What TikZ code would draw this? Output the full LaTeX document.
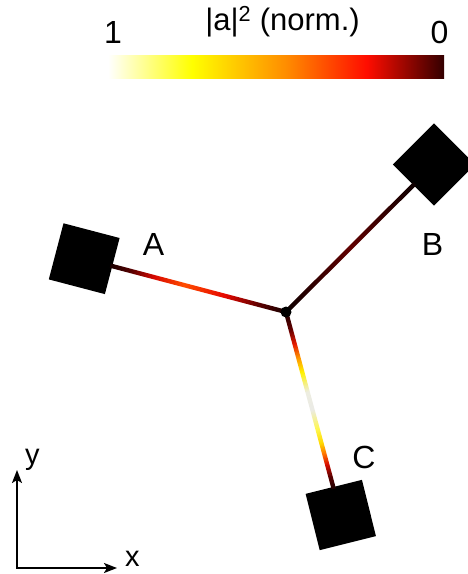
\documentclass[tikz,border=0pt]{standalone}
\usepackage{fontspec}
\setmainfont{Liberation Sans}
\usetikzlibrary{arrows.meta,calc}

\pgfdeclarehorizontalshading{cbarshade}{100bp}{%
  rgb(0bp)=(1,1,1); rgb(25bp)=(1,1,1); rgb(37.5bp)=(1,1,0);
  rgb(51.5bp)=(1,0.55,0); rgb(63.5bp)=(1,0.05,0); rgb(75bp)=(0.2,0,0);
  rgb(100bp)=(0.2,0,0)}
\pgfdeclarehorizontalshading{lineAshade}{100bp}{%
  rgb(0bp)=(0.08,0,0); rgb(25bp)=(0.08,0,0); rgb(32.5bp)=(0.35,0,0);
  rgb(42.5bp)=(0.9,0.03,0); rgb(54bp)=(1,0.3,0); rgb(62.5bp)=(0.85,0.03,0);
  rgb(69bp)=(0.35,0,0); rgb(75bp)=(0.1,0,0); rgb(100bp)=(0.1,0,0)}
\pgfdeclarehorizontalshading{lineBshade}{100bp}{%
  rgb(0bp)=(0.05,0,0); rgb(25bp)=(0.05,0,0); rgb(50bp)=(0.38,0,0);
  rgb(75bp)=(0.05,0,0); rgb(100bp)=(0.05,0,0)}
\pgfdeclarehorizontalshading{lineCshade}{100bp}{%
  rgb(0bp)=(0.1,0,0); rgb(25bp)=(0.1,0,0); rgb(30bp)=(0.4,0,0);
  rgb(34bp)=(0.9,0.1,0); rgb(38bp)=(1,0.6,0); rgb(42bp)=(1,0.95,0);
  rgb(47.5bp)=(0.93,0.93,0.88); rgb(52.5bp)=(0.92,0.92,0.9);
  rgb(58bp)=(1,0.97,0.3); rgb(62bp)=(1,0.85,0); rgb(65bp)=(1,0.45,0);
  rgb(68bp)=(0.85,0.05,0); rgb(71.5bp)=(0.35,0,0); rgb(75bp)=(0.1,0,0);
  rgb(100bp)=(0.1,0,0)}

% gradient connector: #1 start coordinate, #2 end node, #3 shading
\newcommand\gradconn[3]{%
  \path (#1) -- (#2) coordinate[pos=1] (gcend);
  \pgfpointdiff{\pgfpointanchor{#1}{center}}{\pgfpointanchor{gcend}{center}}%
  \pgfgetlastxy{\gcdx}{\gcdy}%
  \pgfmathsetmacro\gcang{atan2(\gcdy,\gcdx)}%
  \pgfmathsetmacro\gclen{veclen(\gcdx,\gcdy)+2}%
  \begin{scope}[transform canvas={shift={(#1)},rotate=\gcang}]
    \shade[shading=#3] (0pt,-2.2pt) rectangle (\gclen pt,2.2pt);
  \end{scope}}

\begin{document}
\begin{tikzpicture}[x=1pt,y=-1pt,
  port/.style={rectangle, fill=black, minimum size=58pt, inner sep=0pt, outer sep=0pt},
  lab/.style={font=\fontsize{32}{36}\selectfont, inner sep=0pt, anchor=base},
  cblab/.style={font=\fontsize{31}{36}\selectfont, inner sep=0pt, anchor=base},
  axlab/.style={font=\fontsize{29}{34}\selectfont, inner sep=0pt, anchor=base west},
  axisline/.style={line width=2pt, {Stealth[length=13pt,width=10pt,inset=3pt]}-{Stealth[length=13pt,width=10pt,inset=3pt]}},
  jdot/.style={circle, fill=black, minimum size=11pt, inner sep=0pt}]
\clip (0,0) rectangle (468,574);

% colour bar
\shade[shading=cbarshade] (108,55) rectangle (444,78);
\node[lab] (one) at (113,43) {1};
\node[lab] (zero) at (439.5,43) {0};
\node[cblab] (cbtitle) at (282.5,30.5) {|a|\textsuperscript{2} (norm.)};

% ports
\coordinate (J) at (286,312);
\node[port, rotate=-14.7] (A) at (84.2,258.7) {};
\node[port, rotate=45] (B) at (434,164.5) {};
\node[port, rotate=14] (C) at (340.8,515) {};

% connectors
\gradconn{J}{A}{lineAshade}
\gradconn{J}{B}{lineBshade}
\gradconn{J}{C}{lineCshade}
\node[jdot] (Jdot) at (J) {};

% labels
\node[lab] (la) at (153.5,255) {A};
\node[lab] (lb) at (432.5,255) {B};
\node[lab] (lc) at (364,468) {C};

% axes
\coordinate (O) at (17,568);
\coordinate (Ytip) at (17,470);
\coordinate (Xtip) at (117,568);
\draw[axisline] (Ytip) -- (O) -- (Xtip);
\node[axlab] (lx) at (125,566) {x};
\node[axlab] (ly) at (25,464) {y};
\end{tikzpicture}
\end{document}
